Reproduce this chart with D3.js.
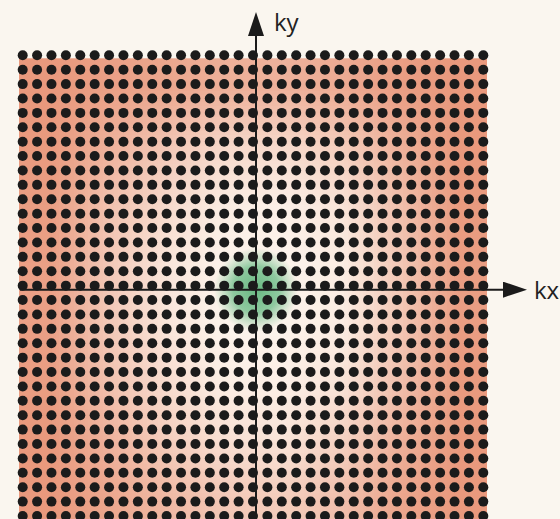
<!DOCTYPE html>
<html lang="en">
<head>
<meta charset="utf-8">
<title>k-space lattice</title>
<script src="https://d3js.org/d3.v7.min.js"></script>
<style type="text/css">
body {
	margin: 0;
	background: #faf6ef;
}
svg text {
	font-family: "Open Sans", "Noto Sans", sans-serif;
	fill: #222;
}
</style>
</head>
<body>
<script type="text/javascript">

const width = 560;
const height = 519;

// lattice indices along kx and ky
var kxIndex = [-16,-15,-14,-13,-12,-11,-10,-9,-8,-7,-6,-5,-4,-3,-2,-1,0,1,2,3,4,5,6,7,8,9,10,11,12,13,14,15,16];
var kyIndex = [-16,-15,-14,-13,-12,-11,-10,-9,-8,-7,-6,-5,-4,-3,-2,-1,0,1,2,3,4,5,6,7,8,9,10,11,12,13,14,15,16];

// background field, coarse samples (0 = pale, 1 = orange), top row first
var fieldRows = [
	[1.00, 0.92, 0.85, 0.75, 0.72, 0.80, 0.94, 1.00],
	[0.98, 0.72, 0.48, 0.30, 0.28, 0.42, 0.74, 1.00],
	[0.95, 0.55, 0.28, 0.08, 0.04, 0.18, 0.58, 0.98],
	[0.92, 0.48, 0.15, 0.00, 0.00, 0.08, 0.50, 0.95],
	[0.92, 0.48, 0.15, 0.00, 0.00, 0.08, 0.50, 0.95],
	[0.95, 0.55, 0.25, 0.06, 0.04, 0.18, 0.58, 0.98],
	[1.00, 0.72, 0.42, 0.22, 0.18, 0.38, 0.74, 1.00],
	[1.00, 0.85, 0.65, 0.48, 0.42, 0.58, 0.86, 1.00]
];

// axis labels
var axisLabels = ["kx", "ky"];

var x = d3.scaleLinear().domain([-16, 16]).range([22.7, 483.3]);
var y = d3.scaleLinear().domain([16, -16]).range([55.3, 516]);

var fieldColor = d3.scaleLinear()
	.domain([0, 1])
	.range(["#fdf4ec", "#e9997d"])
	.interpolate(d3.interpolateRgb);

var svg = d3.select("body")
	.append("svg")
	.attr("width", width)
	.attr("height", height)
	.style("display", "block");

// paint the coarse field into a tiny canvas, let the browser smooth it up
var nx = fieldRows[0].length, ny = fieldRows.length;
var cv = document.createElement("canvas");
cv.width = nx; cv.height = ny;
var ctx = cv.getContext("2d");
fieldRows.forEach(function(row, j) {
	row.forEach(function(v, i) {
		ctx.fillStyle = fieldColor(v);
		ctx.fillRect(i, j, 1, 1);
	});
});

var fx0 = x(-16) - 3.7, fx1 = x(16) + 3.7;
var fy0 = y(16) + 3;
svg.append("image")
	.attr("href", cv.toDataURL())
	.attr("x", fx0)
	.attr("y", fy0)
	.attr("width", fx1 - fx0)
	.attr("height", fx1 - fx0)
	.attr("preserveAspectRatio", "none");

// green blob at the origin
var defs = svg.append("defs");
var rg = defs.append("radialGradient").attr("id", "blob");
rg.append("stop").attr("offset", "0%").attr("stop-color", "rgb(88,178,118)").attr("stop-opacity", 0.9);
rg.append("stop").attr("offset", "55%").attr("stop-color", "rgb(98,184,128)").attr("stop-opacity", 0.72);
rg.append("stop").attr("offset", "100%").attr("stop-color", "rgb(120,195,145)").attr("stop-opacity", 0);

var ox = x(0) + 3, oy = y(0) + 4;

svg.append("circle")
	.attr("cx", ox)
	.attr("cy", oy)
	.attr("r", 42)
	.style("fill", "url(#blob)");

// lattice points
var points = [];
kyIndex.forEach(function(j) {
	kxIndex.forEach(function(i) {
		points.push({i: i, j: j});
	});
});

svg.append("g").selectAll("circle")
	.data(points)
	.enter()
	.append("circle")
	.attr("cx", function(d) { return x(d.i); })
	.attr("cy", function(d) { return y(d.j); })
	.attr("r", 5)
	.style("fill", "#1b1b1b");

// axes with arrow heads
defs.append("marker")
	.attr("id", "arrow")
	.attr("viewBox", "0 0 24 16")
	.attr("refX", 2)
	.attr("refY", 8)
	.attr("markerWidth", 24)
	.attr("markerHeight", 16)
	.attr("markerUnits", "userSpaceOnUse")
	.attr("orient", "auto")
	.append("path")
	.attr("d", "M0,0 L24,8 L0,16 Z")
	.style("fill", "#1b1b1b");

svg.append("line")
	.attr("x1", 20).attr("y1", oy)
	.attr("x2", 505).attr("y2", oy)
	.style("stroke", "#1b1b1b")
	.style("stroke-width", 2)
	.attr("marker-end", "url(#arrow)");

svg.append("line")
	.attr("x1", ox).attr("y1", height)
	.attr("x2", ox).attr("y2", 34)
	.style("stroke", "#1b1b1b")
	.style("stroke-width", 2)
	.attr("marker-end", "url(#arrow)");

svg.append("text")
	.attr("x", 534)
	.attr("y", 299)
	.style("font-size", "24px")
	.text(axisLabels[0]);

svg.append("text")
	.attr("x", 274)
	.attr("y", 31)
	.style("font-size", "24px")
	.text(axisLabels[1]);

</script>
</body>
</html>
